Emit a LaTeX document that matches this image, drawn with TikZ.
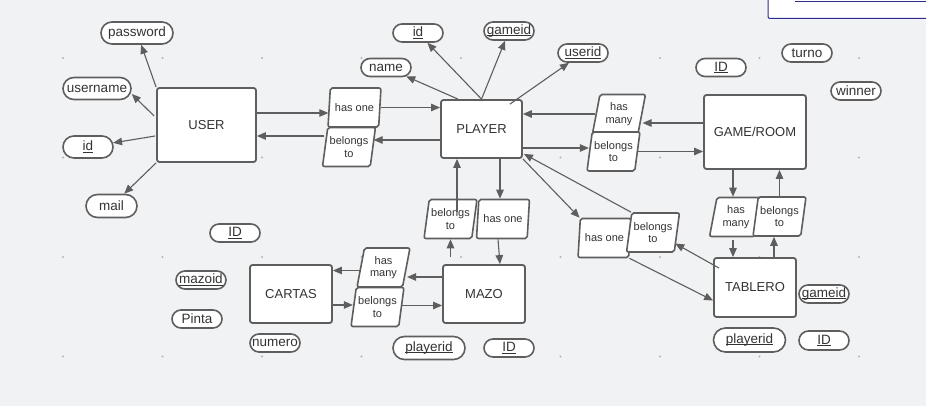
\documentclass[tikz,border=0pt]{standalone}
\usepackage{fontspec}
\setmainfont{Liberation Sans}
\usetikzlibrary{arrows.meta, positioning, shapes, calc}

\definecolor{bggray}{RGB}{241,242,244}
\definecolor{linegray}{RGB}{94,94,94}
\definecolor{textgray}{RGB}{51,51,51}
\definecolor{dotgray}{RGB}{178,180,184}
\definecolor{notenavy}{RGB}{44,44,140}

\newcommand{\keyfield}[1]{\setbox0=\hbox{#1}\rlap{\rule[-1.8pt]{\wd0}{0.8pt}}\box0}

\begin{document}
\begin{tikzpicture}[x=1pt, y=-1pt,
    entity/.style={draw=linegray, line width=1.8pt, fill=white, rounded corners=2.5pt, text=textgray, font=\fontsize{13}{15}\selectfont, minimum width=82pt, minimum height=58pt},
    attr/.style={rounded rectangle, draw=linegray, line width=1.6pt, fill=white, text=textgray, font=\fontsize{13.5}{15}\selectfont, inner sep=0pt, minimum width=50pt, minimum height=18pt},
    rel/.style={trapezium, trapezium left angle=77, trapezium right angle=103, trapezium stretches=true, draw=linegray, line width=1.6pt, fill=white, rounded corners=2pt, text=textgray, font=\fontsize{11}{12.5}\selectfont, align=center, inner sep=0pt, minimum width=53pt, minimum height=39pt},
    arr/.style={draw=linegray, line width=1.1pt, -{Triangle[length=9pt, width=7.5pt]}}
]
\useasboundingbox[fill=bggray] (0,0) rectangle (926,406);

% grid dots
\foreach \gx in {63,162.5,...,860}
  \foreach \gy in {58,157.5,...,358}
    \fill[dotgray] (\gx,\gy) circle (1.1pt);

% note box cut at the corner
\draw[notenavy, line width=1pt, fill=white, rounded corners=2pt] (768,-10) rectangle (940,18.5);
\draw[notenavy, line width=0.8pt] (795,1.5) -- (926,1.5);

% entities
\node[entity, minimum width=99pt, minimum height=74pt] (USER) at (206.5,125) {USER};
\node[entity, minimum width=81pt] (PLAYER) at (481.5,129) {PLAYER};
\node[entity, minimum width=102pt, minimum height=74pt] (GAME) at (755,132) {GAME/ROOM};
\node[entity] (CARTAS) at (291,294) {CARTAS};
\node[entity] (MAZO) at (484,294) {MAZO};
\node[entity, minimum height=59pt] (TABLERO) at (755,287.5) {TABLERO};

% attributes
\node[attr, minimum width=72pt, minimum height=22pt] (password) at (137,33) {password};
\node[attr, minimum width=68pt, minimum height=22pt] (username) at (97,88.5) {username};
\node[attr, minimum height=22pt] (uid) at (88,147) {\keyfield{id}};
\node[attr, minimum width=51pt, minimum height=23pt] (mail) at (111.5,206) {mail};
\node[attr] (name) at (386,67.5) {name};
\node[attr] (pid) at (418,33) {\keyfield{id}};
\node[attr] (pgameid) at (509,31) {\keyfield{gameid}};
\node[attr] (puserid) at (583,53) {\keyfield{userid}};
\node[attr] (gid) at (721,67.5) {\keyfield{ID}};
\node[attr] (turno) at (807,53) {turno};
\node[attr] (winner) at (856,91) {winner};
\node[attr] (cid) at (235,233) {\keyfield{ID}};
\node[attr] (mazoid) at (201,280) {\keyfield{mazoid}};
\node[attr] (pinta) at (197,319) {Pinta};
\node[attr] (numero) at (275,343) {numero};
\node[attr, minimum width=72pt, minimum height=23pt] (mplayerid) at (429,348) {\keyfield{playerid}};
\node[attr] (mid) at (509,348) {\keyfield{ID}};
\node[attr] (tgameid) at (824,294) {\keyfield{gameid}};
\node[attr, minimum width=72pt, minimum height=24pt] (tplayerid) at (749.5,340) {\keyfield{playerid}};
\node[attr, minimum height=19pt] (tid) at (824,340.5) {\keyfield{ID}};

% relationships
\node[rel] (u2p) at (354.5,107.5) {has one};
\node[rel] (p2u) at (349,147) {belongs\\to};
\node[rel] (g2p) at (619,114) {has\\many};
\node[rel] (p2g) at (613.5,151.5) {belongs\\to};
\node[rel] (m2p) at (450.5,219) {belongs\\to};
\node[rel] (p2m) at (503,219) {has one};
\node[rel] (m2c) at (383.5,267.5) {has\\many};
\node[rel] (c2m) at (377.5,307) {belongs\\to};
\node[rel] (p2t) at (604.5,238) {has one};
\node[rel] (t2p) at (653,232.5) {belongs\\to};
\node[rel] (g2t) at (736,217) {has\\many};
\node[rel] (t2g) at (779.5,216.5) {belongs\\to};

% attribute links
\draw[arr] (USER.north west) -- (password);
\draw[arr] ($(USER.west)+(-2,-9)$) -- ($(username.east)+(0,5.5)$);
\draw[arr] ($(USER.west)+(-1,11)$) -- (uid);
\draw[arr] (USER.south west) -- (mail);
\draw[arr] ($(PLAYER.north)+(-23.5,0)$) -- (name);
\draw[arr] (PLAYER.north) -- (pid);
\draw[arr] (PLAYER.north) -- (pgameid);
\draw[arr] ($(PLAYER.north east)+(-13,5)$) -- (puserid);

% USER - PLAYER
\draw[arr] ($(USER.east |- u2p)+(0,5.5)$) -- ($(u2p.left side)+(0,5.5)$);
\draw[arr] (u2p.right side) -- (u2p.right side -| PLAYER.west);
\draw[arr] ($(PLAYER.west |- p2u)+(0,-7)$) -- ($(p2u.right side)+(0,-7)$);
\draw[arr] ($(p2u.left side)+(0,-11)$) -- ($(USER.east |- p2u)+(0,-11)$);

% GAME - PLAYER
\draw[arr] ($(GAME.west |- g2p)+(0,9)$) -- ($(g2p.right side)+(0,9)$);
\draw[arr] (g2p.left side) -- (g2p.left side -| PLAYER.east);
\draw[arr] ($(PLAYER.east |- p2g)+(0,-3.5)$) -- ($(p2g.left side)+(0,-3.5)$);
\draw[arr] (p2g.right side) -- (p2g.right side -| GAME.west);

% MAZO - PLAYER
\draw[arr, shorten <=7pt] (m2p |- MAZO.north) -- (m2p |- m2p.bottom side);
\draw[arr] ($(m2p)+(6.5,-7)$) -- ($(m2p |- PLAYER.south)+(6.5,0)$);
\draw[arr] ($(p2m |- PLAYER.south)+(-3,0)$) -- ($(p2m |- p2m.top side)+(-3,0)$);
\draw[arr] ($(p2m |- p2m.bottom side)+(-5,0)$) -- ($(p2m |- MAZO.north)+(-3,0)$);

% MAZO - CARTAS
\draw[arr] ($(MAZO.west |- m2c)+(0,9.5)$) -- ($(m2c.right side)+(0,9.5)$);
\draw[arr] ($(m2c.left side)+(0,3)$) -- ($(CARTAS.east |- m2c)+(0,3)$);
\draw[arr] ($(CARTAS.east |- c2m)+(0,-2)$) -- ($(c2m.left side)+(0,-2)$);
\draw[arr] ($(c2m.right side)+(0,-1.5)$) -- ($(MAZO.west |- c2m)+(0,-1.5)$);

% PLAYER - TABLERO
\draw[arr] (PLAYER.south east) -- (p2t.top left corner);
\draw[arr] (p2t.bottom right corner) -- ($(TABLERO.west)+(0,13)$);
\draw[arr] ($(TABLERO.north west)+(6,11)$) -- ($(t2p.right side)+(-2.5,11)$);
\draw[arr] (t2p.top left corner) -- ($(PLAYER.south east)+(1,-5)$);

% GAME - TABLERO
\draw[arr] ($(g2t |- GAME.south)+(-3,0)$) -- ($(g2t |- g2t.top side)+(-3,0)$);
\draw[arr] ($(g2t |- g2t.bottom side)+(-3,3)$) -- ($(g2t |- TABLERO.north)+(-3,0)$);
\draw[arr] ($(t2g |- TABLERO.north)+(-5.5,0)$) -- ($(t2g |- t2g.bottom side)+(-5.5,0)$);
\draw[arr] (t2g |- t2g.top side) -- (t2g |- GAME.south);
\end{tikzpicture}
\end{document}
